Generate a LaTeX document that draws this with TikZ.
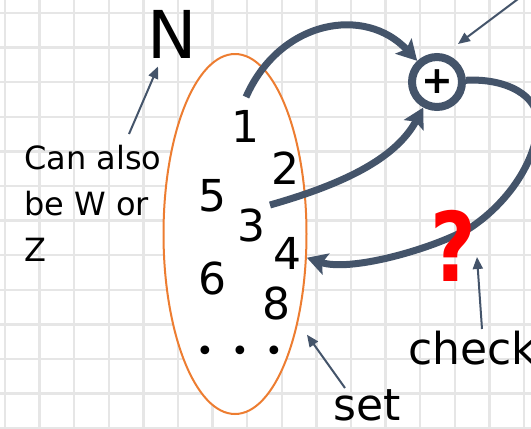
\documentclass[tikz,border=0pt]{standalone}
\usepackage{fontspec}
\setmainfont{DejaVu Sans}
\usetikzlibrary{arrows.meta,shapes.geometric}
\definecolor{slate}{HTML}{44546A}
\definecolor{setorange}{HTML}{ED7D31}
\definecolor{gridgray}{HTML}{E6E6E6}
\definecolor{qred}{HTML}{FF0000}
\begin{document}
\begin{tikzpicture}[x=1pt,y=-1pt,
  gridline/.style={gridgray, line width=2.5pt},
  thickarrow/.style={slate, line width=7pt, -{Stealth[length=20pt,width=22pt,inset=4pt]}},
  thinarrow/.style={slate, line width=2pt, -{Triangle[length=12pt,width=10pt]}},
  digit/.style={inner sep=0pt, font=\fontsize{44}{44}\selectfont},
  lbl/.style={inner sep=0pt, font=\fontsize{44}{44}\selectfont}
]
\useasboundingbox (0,0) rectangle (531,429);
\fill[white] (0,0) rectangle (531,429);
\clip (0,0) rectangle (531,429);
\foreach \i in {0,...,15} {\draw[gridline] ({5+34.6*\i},0) -- ({5+34.6*\i},429);}
\foreach \i in {0,...,12} {\draw[gridline] (0,{13+34.6*\i}) -- (531,{13+34.6*\i});}

% the set
\node[ellipse, draw=setorange, line width=2pt, fill=white, minimum width=143pt, minimum height=360pt, inner sep=0pt] (E) at (235,234) {};

% elements
\node[digit] (d1) at (245,126) {1};
\node[digit] (d2) at (285,168) {2};
\node[digit] (d5) at (212,196) {5};
\node[digit] (d3) at (251,225) {3};
\node[digit] (d4) at (287,253) {4};
\node[digit] (d6) at (212,278) {6};
\node[digit] (d8) at (276,303) {8};
\node[inner sep=0pt, anchor=center, font=\fontsize{30}{30}\selectfont] (dots) at (240,354) {•\hspace{17pt}•\hspace{17pt}•};

% labels
\node[inner sep=0pt, anchor=base, font=\fontsize{66}{66}\selectfont] (N) at (172,58) {N};
\node[inner sep=0pt, align=left, anchor=north west, font=\fontsize{32}{46}\selectfont] (ca) at (24,145) {Can also\\be W or\\Z};
\node[lbl, anchor=base west] (check) at (408,364) {check};
\node[lbl, anchor=base west] (setlbl) at (333,420) {set};

% operation
\node[circle, draw=slate, line width=8pt, fill=white, minimum size=50pt, inner sep=0pt, font=\bfseries\fontsize{38}{38}\selectfont] (plus) at (437,82) {+};

\coordinate (s1) at (246,97);
\coordinate (s3) at (270,205);
\draw[thickarrow] (s1) .. controls (280,20) and (365,5) .. (plus);
\draw[thickarrow] (s3) .. controls (340,185) and (395,160) .. (plus);
\draw[thickarrow] (plus) .. controls (505,78) and (540,95) .. (538,125)
   .. controls (535,165) and (505,205) .. (470,228)
   .. controls (430,250) and (350,272) .. (E);

% question mark
\node[inner sep=0pt, anchor=base, text=qred, font=\bfseries\fontsize{96}{96}\selectfont] (q) at (453,281) {\scalebox{0.82}[1]{?}};

% thin pointer arrows
\coordinate (caStart) at (129,134);
\draw[thinarrow, shorten >=9pt] (caStart) -- (N);
\coordinate (ckStart) at (482,329);
\coordinate (ckEnd) at (477,257);
\draw[thinarrow] (ckStart) -- (ckEnd);
\coordinate (stStart) at (345,388);
\draw[thinarrow, shorten >=15pt] (stStart) -- (E);
\coordinate (trStart) at (522,-4);
\coordinate (trEnd) at (458,44);
\draw[thinarrow] (trStart) -- (trEnd);
\end{tikzpicture}
\end{document}
